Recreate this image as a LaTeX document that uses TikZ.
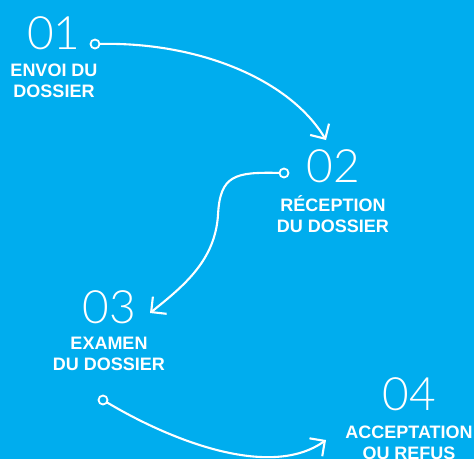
\documentclass[tikz,border=0pt]{standalone}
\usepackage{fontspec}
\usepackage{xcolor}
\usetikzlibrary{positioning, arrows.meta}
\newfontfamily\numfont{Lato Light}
\newfontfamily\lblfont{Liberation Sans}
\definecolor{bgblue}{HTML}{00ADEE}

\begin{document}
\begin{tikzpicture}[
  x=1pt, y=1pt,
  stepnum/.style = {
    inner sep=0pt, text=white,
    font=\numfont\fontsize{46}{46}\selectfont},
  steplbl/.style = {
    inner sep=0pt, text=white, align=center,
    font=\lblfont\bfseries\fontsize{18}{21}\selectfont},
  dot/.style  = {circle, draw=white, line width=1.8pt,
                 inner sep=0pt, minimum size=9pt},
  arr/.style  = {-{Straight Barb[length=11pt,width=22pt]},
                 draw=white, line width=2.1pt,
                 line cap=round, line join=round}
]

%── Background ───────────────────────────────────────────────────
\fill[bgblue] (0,0) rectangle (474,-459);
\useasboundingbox (0,0) rectangle (474,-459);

%── Steps ────────────────────────────────────────────────────────
\node[stepnum, anchor=base] (N1) at (54,-49) {01};
\node[steplbl, below=14pt of N1] (L1) {ENVOI DU\\DOSSIER};

\node[stepnum, anchor=base] (N2) at (333,-182) {02};
\node[steplbl, below=13pt of N2] (L2) {RÉCEPTION\\DU DOSSIER};

\node[stepnum, anchor=base] (N3) at (109,-323) {03};
\node[steplbl, below=13pt of N3] (L3) {EXAMEN\\DU DOSSIER};

\node[stepnum, anchor=base] (N4) at (409,-410) {04};
\node[steplbl, below=15pt of N4] (L4) {ACCEPTATION\\OU REFUS};

%── Start dots and arrow tips ────────────────────────────────────
\node[dot] (D1) at (95,-44) {};
\node[dot] (D2) at (284,-173) {};
\node[dot] (D3) at (103,-400) {};

\coordinate (T1) at (326,-140);
\coordinate (T2) at (150,-313);
\coordinate (T3) at (326,-440);

%── Arrows ───────────────────────────────────────────────────────
\draw[arr] (D1) .. controls (200,-42) and (290,-80) .. (T1);
\draw[arr] (D2) .. controls (235,-172) and (220,-175) .. (218,-215)
                .. controls (215,-260) and (185,-285) .. (T2);
\draw[arr] (D3) .. controls (170,-440) and (270,-480) .. (T3);

\end{tikzpicture}
\end{document}
